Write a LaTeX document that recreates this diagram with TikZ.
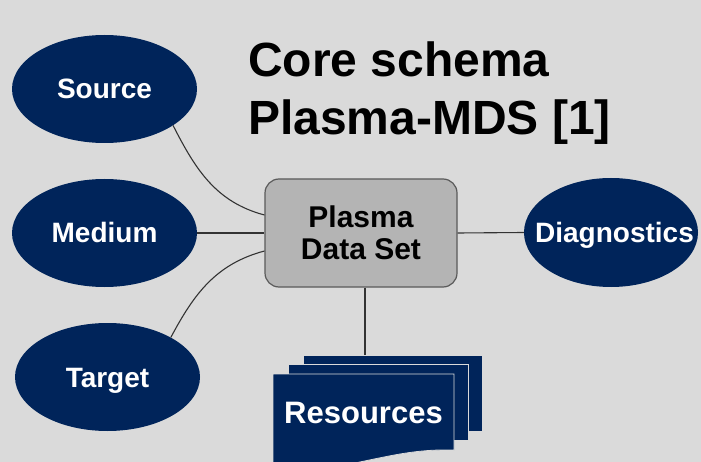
\documentclass[tikz,border=0pt]{standalone}
\usepackage{fontspec}
\setmainfont{Liberation Sans}
\usetikzlibrary{shapes.geometric,calc}
\definecolor{bg}{HTML}{DADADA}
\definecolor{navy}{HTML}{00245A}
\definecolor{boxfill}{HTML}{B4B4B4}
\definecolor{boxline}{HTML}{5A5A5A}
\definecolor{wire}{HTML}{333333}
\begin{document}
\begin{tikzpicture}[x=1pt,y=-1pt,
  blob/.style={ellipse, fill=navy, draw=none, inner sep=0pt},
  bloblabel/.style={text=white, font=\bfseries\fontsize{28}{32}\selectfont, text height=20pt, text depth=0pt, inner sep=0pt},
  databox/.style={rectangle, rounded corners=14pt, fill=boxfill, draw=boxline, line width=1.2pt,
    minimum width=192pt, minimum height=108pt, align=center, font=\bfseries\fontsize{30}{32}\selectfont, inner sep=0pt},
  sheet/.style={rectangle, fill=navy, draw=bg, line width=0.8pt, inner sep=0pt},
  titletext/.style={font=\bfseries\fontsize{48}{56}\selectfont, inner sep=0pt, anchor=base west},
  wire/.style={draw=wire, line width=1.1pt}]
\path[use as bounding box, fill=bg] (0,0) rectangle (701,462);
\clip (0,0) rectangle (701,462);

% title
\node[titletext] (t1) at (248,77) {Core schema};
\node[titletext] (t2) at (248,135) {Plasma-MDS [1]};

% ellipses
\node[blob, minimum width=185pt, minimum height=108pt] (src) at (104.5,89) {};
\node[bloblabel] at (src) {Source};
\node[blob, minimum width=185pt, minimum height=108pt] (med) at (104.5,233) {};
\node[bloblabel] at (med) {Medium};
\node[blob, minimum width=185pt, minimum height=108pt] (tgt) at (107.5,377) {};
\node[bloblabel] at (tgt) {Target};
\node[blob, minimum width=174pt, minimum height=109pt] (diag) at (611,232.5) {};
\node[bloblabel] at ($(diag)+(3.5,0)$) {Diagnostics};

% central box
\node[databox] (pds) at (361,233) {Plasma\\Data Set};

% resources stack
\node[sheet, minimum width=179pt, minimum height=76pt] (res3) at (392.5,393) {};
\node[sheet, minimum width=180pt, minimum height=76pt] (res2) at (378,402) {};
\path[fill=navy, draw=bg, line width=0.8pt] (273,374) -- (454,374) -- (454,450)
  .. controls (415,449) and (390,456) .. (350,464)
  .. controls (315,471) and (290,471) .. (273,468) -- cycle;
\node[bloblabel, font=\bfseries\fontsize{31}{34}\selectfont, text height=22pt] (res) at (363.5,412.5) {Resources};

% connectors
\coordinate (pdsA) at ($(pds.west)+(0,-18)$);
\coordinate (pdsB) at ($(pds.west)+(0,18)$);
\coordinate (pdsS) at ($(pds.south)+(4,0)$);
\draw[wire] (med.east) -- (pds.west);
\draw[wire] (pds.east) -- (diag.west);
\draw[wire] (src.-28) to[out=-63,in=165] (pdsA);
\draw[wire] (tgt.32) to[out=62,in=195] (pdsB);
\draw[wire] (pdsS) -- (pdsS |- res3.north);
\end{tikzpicture}
\end{document}
